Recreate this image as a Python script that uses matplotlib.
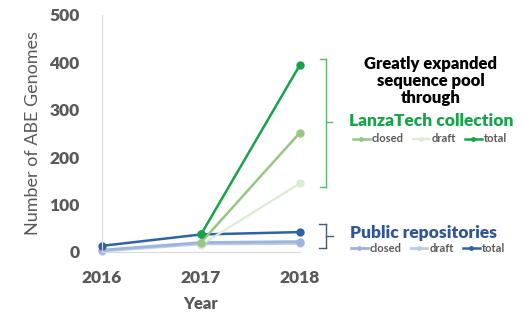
import matplotlib.pyplot as plt
from matplotlib.lines import Line2D

plt.rcParams['font.family'] = ['Lato', 'DejaVu Sans']

years = [2016, 2017, 2018]
pub_closed = [4, 20, 22]
pub_draft = [2, 17, 18]
pub_total = [13, 37, 42]
lt_years = [2017, 2018]
lt_closed = [20, 252]
lt_draft = [15, 145]
lt_total = [37, 395]

W, H = 523, 321
fig = plt.figure(figsize=(W / 100, H / 100), dpi=100)
ax = fig.add_axes([102 / W, 1 - 252 / H, 198 / W, (252 - 15) / H])


def fx(x, y):
    return x / W, 1 - y / H


gray = '#595959'
ms = 5
l1, = ax.plot(years, pub_draft, color='#bccbe6', marker='o', ms=ms, lw=2, clip_on=False, label='draft')
l2, = ax.plot(years, pub_closed, color='#9fb4dc', marker='o', ms=ms, lw=2, clip_on=False, label='closed')
l3, = ax.plot(years, pub_total, color='#2e63a6', marker='o', ms=ms, lw=1.8, clip_on=False, label='total')
g1, = ax.plot(lt_years, lt_draft, color='#dcebd2', marker='o', ms=ms, lw=1.6, clip_on=False, label='draft')
g2, = ax.plot(lt_years, lt_closed, color='#96c783', marker='o', ms=ms, lw=1.8, clip_on=False, label='closed')
g3, = ax.plot(lt_years, lt_total, color='#17a348', marker='o', ms=ms, lw=1.8, clip_on=False, label='total')

ax.set_xlim(2016, 2018)
ax.set_ylim(0, 500)
ax.set_xticks(years)
ax.set_yticks([0, 100, 200, 300, 400, 500])
for s in ['top', 'right']:
    ax.spines[s].set_visible(False)
ax.spines['left'].set_color('#d9d9d9')
ax.spines['bottom'].set_color('#d9d9d9')
ax.tick_params(length=0, labelsize=12.5, labelcolor=gray)
ax.tick_params(axis='y', pad=16)
ax.tick_params(axis='x', pad=13)
for t in ax.get_xticklabels() + ax.get_yticklabels():
    t.set_fontweight('heavy')
ax.set_ylabel('Number of ABE Genomes', fontsize=13, color=gray, labelpad=6)
ax.set_xlabel('Year', fontsize=12, color=gray, fontweight='heavy', labelpad=7)

# brackets
gcol = '#5fb56f'
for seg in [((320, 59), (326, 59)), ((326, 59), (326, 187)), ((320, 187), (326, 187)), ((326, 122), (332, 122))]:
    (x0, y0), (x1, y1) = seg
    a, b = fx(x0, y0)
    c, d = fx(x1, y1)
    fig.add_artist(Line2D([a, c], [b, d], color=gcol, lw=1))
bcol = '#4a5a70'
for seg in [((319, 224), (326, 224)), ((326, 224), (326, 248)), ((319, 248), (326, 248)), ((326, 236), (333, 236))]:
    (x0, y0), (x1, y1) = seg
    a, b = fx(x0, y0)
    c, d = fx(x1, y1)
    fig.add_artist(Line2D([a, c], [b, d], color=bcol, lw=1))

fig.text(*fx(431, 81), 'Greatly expanded\nsequence pool\nthrough', ha='center', va='center',
         fontsize=12, fontweight='heavy', color='black', linespacing=1.05)
fig.text(*fx(431, 121), 'LanzaTech collection', ha='center', va='center',
         fontsize=12.5, fontweight='heavy', color='#17a348')
fig.text(*fx(424, 233), 'Public repositories', ha='center', va='center',
         fontsize=12.5, fontweight='heavy', color='#2f5597')

leg_kw = dict(ncol=3, frameon=False, handlelength=1.5, handletextpad=0.2,
              columnspacing=0.8, markerscale=0.5, loc='center', bbox_transform=fig.transFigure,
              borderpad=0, labelcolor=gray, prop={'weight': 'bold', 'size': 8})
leg1 = ax.legend(handles=[g2, g1, g3], bbox_to_anchor=fx(430, 139), **leg_kw)
ax.add_artist(leg1)
ax.legend(handles=[l2, l1, l3], bbox_to_anchor=fx(428, 248), **leg_kw)

fig.savefig('out.png', dpi=100)
